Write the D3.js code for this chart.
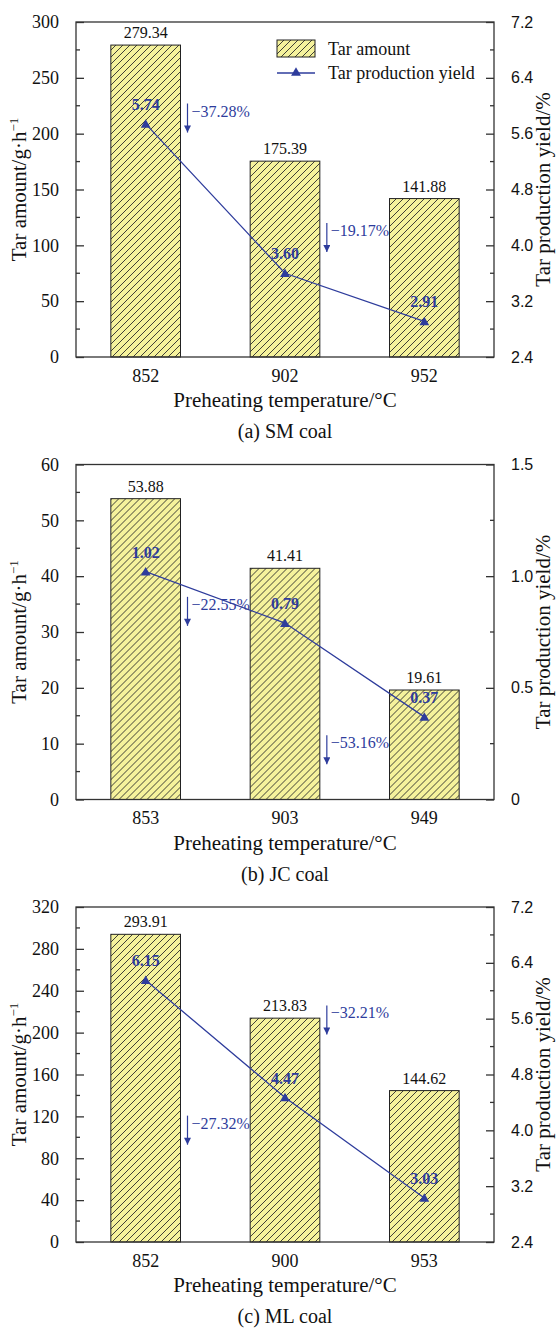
<!DOCTYPE html>
<html>
<head>
<meta charset="utf-8">
<script src="https://cdn.jsdelivr.net/npm/d3@7"></script>
<style>
  body { margin: 0; background: #fff; }
  svg { display: block; }
</style>
</head>
<body>
<script>
// ---- data ----
const temperaturesSM = ["852", "902", "952"];
const tarAmountSM = [279.34, 175.39, 141.88];
const tarYieldSM = [5.74, 3.60, 2.91];
const dropLabelsSM = ["\u221237.28%", "\u221219.17%"];
const dropLevelSM = [227, 120];

const temperaturesJC = ["853", "903", "949"];
const tarAmountJC = [53.88, 41.41, 19.61];
const tarYieldJC = [1.02, 0.79, 0.37];
const dropLabelsJC = ["\u221222.55%", "\u221253.16%"];
const dropLevelJC = [36.3, 11.5];

const temperaturesML = ["852", "900", "953"];
const tarAmountML = [293.91, 213.83, 144.62];
const tarYieldML = [6.15, 4.47, 3.03];
const dropLabelsML = ["\u221227.32%", "\u221232.21%"];
const dropLevelML = [120.7, 226];

const captions = ["(a) SM coal", "(b) JC coal", "(c) ML coal"];
const leftTicksSM = [0, 50, 100, 150, 200, 250, 300];
const leftTicksJC = [0, 10, 20, 30, 40, 50, 60];
const leftTicksML = [0, 40, 80, 120, 160, 200, 240, 280, 320];
const rightTicksSM = [2.4, 3.2, 4.0, 4.8, 5.6, 6.4, 7.2];
const rightTicksJC = [0, 0.5, 1.0, 1.5];
const rightTicksML = [2.4, 3.2, 4.0, 4.8, 5.6, 6.4, 7.2];
const legendLabels = ["Tar amount", "Tar production yield"];

const panels = [
  { temps: temperaturesSM, amount: tarAmountSM, yld: tarYieldSM, drops: dropLabelsSM, dropAt: dropLevelSM,
    lTicks: leftTicksSM, rTicks: rightTicksSM, rFmt: d3.format(".1f"), caption: captions[0], legend: true },
  { temps: temperaturesJC, amount: tarAmountJC, yld: tarYieldJC, drops: dropLabelsJC, dropAt: dropLevelJC,
    lTicks: leftTicksJC, rTicks: rightTicksJC, rFmt: d => d === 0 ? "0" : d3.format(".1f")(d), caption: captions[1], legend: false },
  { temps: temperaturesML, amount: tarAmountML, yld: tarYieldML, drops: dropLabelsML, dropAt: dropLevelML,
    lTicks: leftTicksML, rTicks: rightTicksML, rFmt: d3.format(".1f"), caption: captions[2], legend: false }
];

// ---- layout & style ----
const W = 560, H = 1329;
const panelH = 442.5;
const plotL = 76, plotR = 494, plotTop = 22, plotBot = 357;
const serif = "'Liberation Serif', 'Times New Roman', serif";
const sans = "'Liberation Sans', Arial, sans-serif";
const blue = "#2e3c9c";
const axisColor = "#333";

const svg = d3.select("body").append("svg").attr("width", W).attr("height", H);

const defs = svg.append("defs");
const hatch = defs.append("pattern")
  .attr("id", "hatch").attr("patternUnits", "userSpaceOnUse")
  .attr("width", 7).attr("height", 7);
hatch.append("rect").attr("width", 7).attr("height", 7).attr("fill", "#f5f29c");
hatch.append("path")
  .attr("d", "M-1,1 L1,-1 M0,7 L7,0 M6,8 L8,6")
  .attr("stroke", "#2a2a2a").attr("stroke-width", 0.9);

const arrowHead = defs.append("marker")
  .attr("id", "dropHead").attr("viewBox", "0 0 10 10")
  .attr("refX", 10).attr("refY", 5)
  .attr("markerWidth", 12).attr("markerHeight", 7)
  .attr("markerUnits", "userSpaceOnUse").attr("orient", "auto");
arrowHead.append("path").attr("d", "M0,0 L10,5 L0,10 Z").attr("fill", blue);

const tri = d3.symbol().type(d3.symbolTriangle).size(42);

panels.forEach((p, k) => {
  const g = svg.append("g").attr("transform", `translate(0,${k * panelH})`);

  const x = d3.scaleBand().domain(p.temps).range([plotL, plotR]).paddingInner(0.5).paddingOuter(0.25);
  const yL = d3.scaleLinear().domain(d3.extent(p.lTicks)).range([plotBot, plotTop]);
  const yR = d3.scaleLinear().domain(d3.extent(p.rTicks)).range([plotBot, plotTop]);

  // bars
  g.selectAll("rect.bar").data(p.amount).join("rect")
    .attr("class", "bar")
    .attr("x", (d, i) => x(p.temps[i]))
    .attr("width", x.bandwidth())
    .attr("y", d => yL(d))
    .attr("height", d => yL(0) - yL(d))
    .attr("fill", "url(#hatch)")
    .attr("stroke", "#222").attr("stroke-width", 1);

  // bar value labels
  g.selectAll("text.val").data(p.amount).join("text")
    .attr("class", "val")
    .attr("x", (d, i) => x(p.temps[i]) + x.bandwidth() / 2)
    .attr("y", d => yL(d) - 7)
    .attr("text-anchor", "middle")
    .attr("font-family", serif).attr("font-size", 16).attr("fill", "#111")
    .text(d => d3.format(".2f")(d));

  // yield line
  const cx = (d, i) => x(p.temps[i]) + x.bandwidth() / 2;
  g.append("path")
    .datum(p.yld)
    .attr("d", d3.line().x(cx).y(d => yR(d)))
    .attr("fill", "none").attr("stroke", blue).attr("stroke-width", 1.3);
  g.selectAll("path.pt").data(p.yld).join("path")
    .attr("class", "pt")
    .attr("d", tri)
    .attr("transform", (d, i) => `translate(${cx(d, i)},${yR(d) + 1})`)
    .attr("fill", blue);
  g.selectAll("text.yv").data(p.yld).join("text")
    .attr("class", "yv")
    .attr("x", cx)
    .attr("y", d => yR(d) - 14)
    .attr("text-anchor", "middle")
    .attr("font-family", serif).attr("font-size", 16).attr("font-weight", "bold")
    .attr("fill", blue)
    .text(d => d3.format(".2f")(d));

  // drop annotations
  p.drops.forEach((lab, i) => {
    const ax = x(p.temps[i]) + x.bandwidth() + 7;
    const top = yL(p.dropAt[i]);
    g.append("line")
      .attr("x1", ax).attr("x2", ax)
      .attr("y1", top).attr("y2", top + 29)
      .attr("stroke", blue).attr("stroke-width", 1.2)
      .attr("marker-end", "url(#dropHead)");
    g.append("text")
      .attr("x", ax + 4).attr("y", top + 13)
      .attr("font-family", serif).attr("font-size", 16).attr("fill", blue)
      .text(lab);
  });

  // frame
  g.append("rect")
    .attr("x", plotL).attr("y", plotTop)
    .attr("width", plotR - plotL).attr("height", plotBot - plotTop)
    .attr("fill", "none").attr("stroke", axisColor).attr("stroke-width", 1.3);

  // left axis
  const lStep = p.lTicks[1] - p.lTicks[0];
  const lMinor = d3.range(p.lTicks[0] + lStep / 2, d3.max(p.lTicks), lStep);
  const left = d3.axisLeft(yL).tickValues(p.lTicks).tickSize(-8).tickPadding(17).tickFormat(d3.format("d"));
  const gl = g.append("g").attr("transform", `translate(${plotL},0)`).call(left);
  gl.select(".domain").remove();
  gl.selectAll(".tick line").attr("stroke", axisColor).attr("stroke-width", 1.3);
  gl.selectAll(".tick text").attr("font-family", serif).attr("font-size", 18).attr("fill", "#111");
  gl.selectAll("line.minor").data(lMinor).join("line").attr("class", "minor")
    .attr("x1", 0).attr("x2", 4).attr("y1", d => yL(d)).attr("y2", d => yL(d))
    .attr("stroke", axisColor).attr("stroke-width", 1.3);

  // right axis
  const rStep = p.rTicks[1] - p.rTicks[0];
  const rMinor = d3.range(p.rTicks[0] + rStep / 2, d3.max(p.rTicks), rStep);
  const right = d3.axisRight(yR).tickValues(p.rTicks).tickSize(-8).tickPadding(17).tickFormat(p.rFmt);
  const gr = g.append("g").attr("transform", `translate(${plotR},0)`).call(right);
  gr.select(".domain").remove();
  gr.selectAll(".tick line").attr("stroke", axisColor).attr("stroke-width", 1.3);
  gr.selectAll(".tick text").attr("font-family", sans).attr("font-size", 16).attr("fill", "#111");
  gr.selectAll("line.minor").data(rMinor).join("line").attr("class", "minor")
    .attr("x1", 0).attr("x2", -4).attr("y1", d => yR(d)).attr("y2", d => yR(d))
    .attr("stroke", axisColor).attr("stroke-width", 1.3);

  // bottom axis labels
  const bottom = d3.axisBottom(x).tickSize(0).tickPadding(12);
  const gb = g.append("g").attr("transform", `translate(0,${plotBot})`).call(bottom);
  gb.select(".domain").remove();
  gb.selectAll(".tick text").attr("font-family", serif).attr("font-size", 18).attr("fill", "#111");

  // axis titles
  g.append("text")
    .attr("x", (plotL + plotR) / 2).attr("y", plotBot + 50)
    .attr("text-anchor", "middle")
    .attr("font-family", serif).attr("font-size", 21).attr("fill", "#111")
    .text("Preheating temperature/\u00B0C");
  const lt = g.append("text")
    .attr("transform", `translate(26,${(plotTop + plotBot) / 2}) rotate(-90)`)
    .attr("text-anchor", "middle")
    .attr("font-family", serif).attr("font-size", 21).attr("fill", "#111");
  lt.append("tspan").text("Tar amount/g\u00B7h");
  lt.append("tspan").attr("dy", -8).attr("font-size", 13).text("\u22121");
  g.append("text")
    .attr("transform", `translate(550,${(plotTop + plotBot) / 2}) rotate(-90)`)
    .attr("text-anchor", "middle")
    .attr("font-family", serif).attr("font-size", 21).attr("fill", "#111")
    .text("Tar production yield/%");

  // caption
  g.append("text")
    .attr("x", (plotL + plotR) / 2).attr("y", plotBot + 81)
    .attr("text-anchor", "middle")
    .attr("font-family", serif).attr("font-size", 20).attr("fill", "#111")
    .text(p.caption);

  // legend
  if (p.legend) {
    const lg = g.append("g").attr("transform", "translate(277,40)");
    lg.append("rect").attr("x", 0).attr("y", 0).attr("width", 38).attr("height", 17)
      .attr("fill", "url(#hatch)").attr("stroke", "#222").attr("stroke-width", 1);
    lg.append("text").attr("x", 51).attr("y", 14.5)
      .attr("font-family", serif).attr("font-size", 18).attr("fill", "#111").text(legendLabels[0]);
    lg.append("line").attr("x1", 0).attr("x2", 38).attr("y1", 33).attr("y2", 33)
      .attr("stroke", blue).attr("stroke-width", 1.3);
    lg.append("path").attr("d", tri).attr("transform", "translate(19,33)").attr("fill", blue);
    lg.append("text").attr("x", 51).attr("y", 39)
      .attr("font-family", serif).attr("font-size", 18).attr("fill", "#111").text(legendLabels[1]);
  }
});
</script>
</body>
</html>
